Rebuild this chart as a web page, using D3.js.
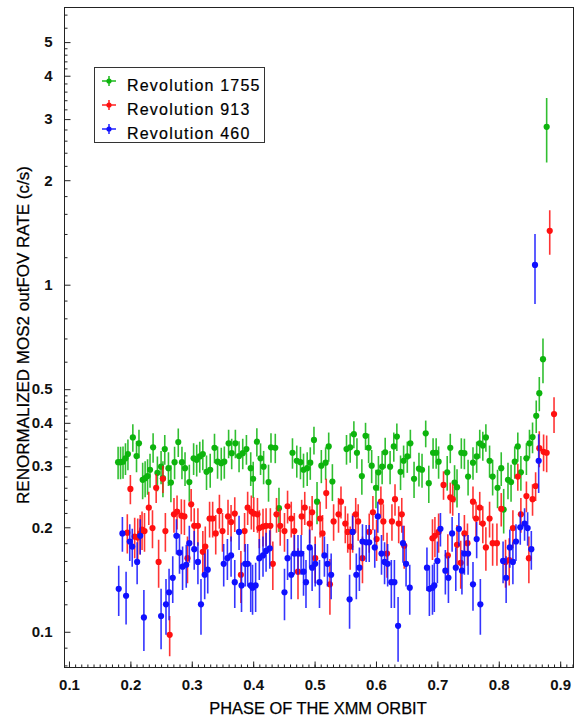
<!DOCTYPE html>
<html>
<head>
<meta charset="utf-8">
<script src="https://cdn.jsdelivr.net/npm/d3@7"></script>
<style>
  html, body { margin: 0; padding: 0; background: #fff; }
  svg { display: block; font-family: "Liberation Sans", Arial, Helvetica, sans-serif; }
</style>
</head>
<body>
<svg id="chart" width="585" height="717"></svg>
<script>
// Orbital phase vs. renormalized MOS2 out-of-FOV count rate (c/s).
// Each point: [phase, rate] or [phase, rate, 1-sigma error] when it differs from the series default.
const rev1755 = [
  [0.180,0.308],[0.184,0.308],[0.188,0.309],[0.192,0.316],[0.196,0.325],[0.204,0.363],[0.210,0.321],
  [0.214,0.349],[0.220,0.274],[0.224,0.277],[0.228,0.281],[0.232,0.293],[0.237,0.340],[0.244,0.287],
  [0.250,0.299],[0.253,0.277],[0.256,0.336],[0.262,0.296],[0.266,0.269],[0.272,0.308],[0.278,0.352],
  [0.284,0.308],[0.289,0.296],[0.296,0.270],[0.303,0.316],[0.308,0.313],[0.313,0.320],[0.318,0.325],
  [0.324,0.289],[0.330,0.293],[0.337,0.339],[0.342,0.309],[0.348,0.306],[0.353,0.309],[0.360,0.349],
  [0.365,0.327],[0.371,0.349],[0.377,0.321],[0.383,0.327],[0.389,0.336],[0.396,0.296],[0.400,0.276],
  [0.406,0.353],[0.412,0.316],[0.417,0.299],[0.425,0.270],[0.429,0.340],[0.436,0.339],[0.442,0.227],
  [0.464,0.328],[0.471,0.311],[0.477,0.308],[0.482,0.293],[0.488,0.296],[0.493,0.307],[0.499,0.357],
  [0.504,0.237],[0.511,0.301],[0.518,0.307],[0.523,0.342],[0.529,0.271],[0.552,0.336],[0.558,0.340],
  [0.564,0.371],[0.569,0.328],[0.577,0.281],[0.583,0.367],[0.588,0.339],[0.593,0.301],[0.600,0.260],
  [0.604,0.288],[0.610,0.299],[0.615,0.329],[0.623,0.299],[0.629,0.342],[0.634,0.365],[0.640,0.289],
  [0.645,0.311],[0.651,0.320],[0.656,0.349],[0.662,0.276],[0.670,0.295],[0.675,0.293],[0.681,0.373],
  [0.686,0.268],[0.693,0.328],[0.698,0.328],[0.702,0.309],[0.716,0.288],[0.721,0.339],[0.728,0.269],
  [0.732,0.261],[0.739,0.328],[0.744,0.327],[0.750,0.280],[0.758,0.307],[0.764,0.320],[0.769,0.349],
  [0.774,0.344],[0.779,0.363],[0.785,0.311],[0.790,0.280],[0.798,0.260],[0.804,0.296],[0.808,0.225],
  [0.815,0.274],[0.820,0.270],[0.826,0.309],[0.831,0.342],[0.836,0.288],[0.845,0.316],[0.850,0.349],
  [0.855,0.364,0.037],[0.861,0.419,0.045],[0.866,0.487,0.055],[0.872,0.610,0.09],[0.878,2.85,0.60]
];
const rev913 = [
  [0.195,0.193],[0.200,0.258],[0.207,0.188],[0.212,0.187],[0.216,0.192],[0.219,0.197],[0.223,0.195],
  [0.230,0.228],[0.236,0.199],[0.242,0.260],[0.246,0.159],[0.253,0.276],[0.257,0.195],[0.264,0.098,0.013],
  [0.271,0.218],[0.276,0.222],[0.283,0.216],[0.288,0.215],[0.293,0.163],[0.299,0.233],[0.304,0.202],
  [0.310,0.202],[0.318,0.170],[0.322,0.176],[0.329,0.212],[0.334,0.212],[0.339,0.192],[0.345,0.223],
  [0.350,0.195],[0.359,0.215],[0.364,0.207],[0.370,0.219],[0.380,0.146],[0.386,0.195],[0.391,0.228],
  [0.397,0.222],[0.401,0.219],[0.407,0.218],[0.410,0.199],[0.416,0.201],[0.421,0.202],[0.428,0.202],
  [0.432,0.157],[0.438,0.218],[0.444,0.202],[0.451,0.195],[0.456,0.230],[0.462,0.212],[0.467,0.195],
  [0.473,0.149],[0.479,0.215],[0.484,0.228],[0.492,0.205],[0.496,0.221],[0.501,0.163],[0.509,0.212],
  [0.513,0.192],[0.519,0.251],[0.525,0.137],[0.531,0.208],[0.539,0.218],[0.543,0.237],[0.550,0.205],
  [0.554,0.194],[0.558,0.176],[0.562,0.194],[0.567,0.218],[0.571,0.208],[0.578,0.163],[0.589,0.194],
  [0.595,0.221],[0.601,0.185],[0.608,0.237],[0.612,0.208],[0.618,0.168],[0.626,0.208],[0.631,0.241],
  [0.637,0.205],[0.642,0.218],[0.646,0.177],[0.692,0.186],[0.696,0.189],[0.702,0.194],[0.710,0.265],
  [0.717,0.166],[0.721,0.244],[0.725,0.241],[0.732,0.178],[0.738,0.158],[0.744,0.192],[0.749,0.180],
  [0.758,0.237],[0.763,0.212],[0.769,0.228],[0.774,0.205],[0.779,0.175],[0.785,0.212],[0.790,0.180],
  [0.797,0.180],[0.804,0.226],[0.811,0.159],[0.817,0.161],[0.823,0.199],[0.831,0.280],[0.836,0.218],
  [0.845,0.246],[0.849,0.163],[0.855,0.241],[0.860,0.263],[0.866,0.338,0.04],[0.873,0.330,0.04],
  [0.878,0.328,0.04],[0.883,1.43,0.21],[0.890,0.424,0.05]
];
const rev460 = [
  [0.181,0.133],[0.187,0.192],[0.193,0.127],[0.199,0.182],[0.203,0.176],[0.211,0.159],[0.216,0.189],
  [0.222,0.110],[0.250,0.111],[0.258,0.120],[0.263,0.130],[0.269,0.143],[0.275,0.189],[0.280,0.169],
  [0.285,0.154],[0.291,0.156],[0.296,0.180],[0.304,0.173],[0.310,0.159],[0.315,0.120],[0.321,0.146],
  [0.326,0.151],[0.352,0.157],[0.358,0.163],[0.364,0.166],[0.370,0.139],[0.377,0.194],[0.381,0.136],
  [0.387,0.157],[0.391,0.157],[0.396,0.136],[0.399,0.134],[0.404,0.136],[0.410,0.163],[0.416,0.166],
  [0.421,0.171],[0.427,0.174],[0.451,0.130],[0.456,0.163],[0.462,0.146],[0.467,0.168],[0.473,0.168],
  [0.478,0.168],[0.482,0.149],[0.486,0.139],[0.492,0.175],[0.496,0.153],[0.501,0.157],[0.508,0.139],
  [0.516,0.166],[0.521,0.157],[0.527,0.146],[0.557,0.124],[0.562,0.194],[0.568,0.146],[0.573,0.153],
  [0.578,0.182],[0.584,0.181],[0.589,0.181],[0.598,0.175],[0.603,0.215],[0.609,0.168],[0.614,0.159],
  [0.619,0.157],[0.625,0.139],[0.630,0.139],[0.636,0.104],[0.644,0.180],[0.649,0.157],[0.655,0.134],
  [0.683,0.153],[0.687,0.133],[0.692,0.134],[0.695,0.136],[0.700,0.160],[0.705,0.198],[0.713,0.150],
  [0.718,0.143],[0.724,0.192],[0.730,0.153],[0.735,0.198],[0.740,0.150],[0.744,0.168],[0.750,0.168],
  [0.758,0.137],[0.764,0.185],[0.770,0.120],[0.807,0.160],[0.812,0.143],[0.818,0.175],[0.823,0.159],
  [0.828,0.182],[0.835,0.200],[0.842,0.205],[0.847,0.199],[0.853,0.173],[0.859,1.14,0.26],[0.865,0.311,0.06]
];

const seriesList = [
  { name: "Revolution 1755", color: "#0db40d", err: 0.033, data: rev1755 },
  { name: "Revolution 913",  color: "#ff1010", err: 0.025, data: rev913 },
  { name: "Revolution 460",  color: "#1010ff", err: 0.022, data: rev460 }
];

const phaseTicks = [0.1, 0.2, 0.3, 0.4, 0.5, 0.6, 0.7, 0.8, 0.9];
const phaseMinor = d3.range(10, 93).map(k => k / 100);
const rateTicks = [0.1, 0.2, 0.3, 0.4, 0.5, 1, 2, 3, 4, 5];
const rateMinor = [0.08, 0.09, 0.12, 0.14, 0.16, 0.18, 0.22, 0.24, 0.26, 0.28,
                   0.32, 0.34, 0.36, 0.38, 0.42, 0.44, 0.46, 0.48, 0.6, 0.7, 0.8, 0.9,
                   1.2, 1.4, 1.6, 1.8, 2.2, 2.4, 2.6, 2.8, 3.2, 3.4, 3.6, 3.8,
                   4.2, 4.4, 4.6, 4.8, 5.5, 6];

const phaseDomain = [0.0927, 0.9217];
const rateDomain = [0.0789, 6.29];

const frame = { left: 64.5, right: 573.5, top: 7.5, bottom: 667.5 };
const svg = d3.select("#chart");

const x = d3.scaleLinear().domain(phaseDomain).range([frame.left, frame.right]);
const y = d3.scaleLog().domain(rateDomain).range([frame.bottom, frame.top]);

svg.append("defs").append("clipPath").attr("id", "plotClip")
  .append("rect")
  .attr("x", frame.left).attr("y", frame.top)
  .attr("width", frame.right - frame.left).attr("height", frame.bottom - frame.top);

// frame
svg.append("rect")
  .attr("x", frame.left).attr("y", frame.top)
  .attr("width", frame.right - frame.left).attr("height", frame.bottom - frame.top)
  .attr("fill", "none").attr("stroke", "#222").attr("stroke-width", 1);

// bottom axis: ticks point into the plot
const xAxis = d3.axisBottom(x).tickValues(phaseTicks).tickSize(-6).tickPadding(12)
  .tickFormat(d3.format(".1f"));
const gx = svg.append("g").attr("transform", `translate(0,${frame.bottom})`).call(xAxis);
gx.select(".domain").remove();
gx.selectAll(".tick line").attr("stroke", "#222");
gx.selectAll(".tick text").attr("font-size", 15).attr("font-weight", "bold").attr("fill", "#111")
  .attr("dy", "0.71em");
const gxm = svg.append("g").attr("transform", `translate(0,${frame.bottom})`)
  .call(d3.axisBottom(x).tickValues(phaseMinor).tickSize(-3).tickFormat(""));
gxm.select(".domain").remove();
gxm.selectAll(".tick line").attr("stroke", "#222");

// left axis
const yAxis = d3.axisLeft(y).tickValues(rateTicks).tickSize(-6).tickPadding(12)
  .tickFormat(d => d < 1 ? d3.format(".1f")(d) : d3.format("d")(d));
const gy = svg.append("g").attr("transform", `translate(${frame.left},0)`).call(yAxis);
gy.select(".domain").remove();
gy.selectAll(".tick line").attr("stroke", "#222");
gy.selectAll(".tick text").attr("font-size", 15).attr("font-weight", "bold").attr("fill", "#111");
const gym = svg.append("g").attr("transform", `translate(${frame.left},0)`)
  .call(d3.axisLeft(y).tickValues(rateMinor).tickSize(-3).tickFormat(""));
gym.select(".domain").remove();
gym.selectAll(".tick line").attr("stroke", "#222");

// axis titles
svg.append("text")
  .attr("x", 318).attr("y", 714)
  .attr("text-anchor", "middle").attr("font-size", 16.4).attr("fill", "#000")
  .attr("stroke", "#000").attr("stroke-width", 0.25)
  .text("PHASE OF THE XMM ORBIT");
svg.append("text")
  .attr("transform", "translate(29,335) rotate(-90)")
  .attr("text-anchor", "middle").attr("font-size", 17).attr("fill", "#000")
  .attr("stroke", "#000").attr("stroke-width", 0.25)
  .text("RENORMALIZED MOS2 outFOV RATE (c/s)");

// data: error bars then markers
const plot = svg.append("g").attr("clip-path", "url(#plotClip)");
seriesList.forEach(s => {
  const g = plot.append("g");
  g.selectAll("line").data(s.data).join("line")
    .attr("x1", d => x(d[0])).attr("x2", d => x(d[0]))
    .attr("y1", d => y(d[1] + (d[2] ?? s.err)))
    .attr("y2", d => y(Math.max(d[1] - (d[2] ?? s.err), 1e-3)))
    .attr("stroke", s.color).attr("stroke-width", 1.6).attr("stroke-opacity", 0.85);
  g.selectAll("circle").data(s.data).join("circle")
    .attr("cx", d => x(d[0])).attr("cy", d => y(d[1])).attr("r", 3.1)
    .attr("fill", s.color);
});

// legend
const legend = svg.append("g");
legend.append("rect").attr("x", 94.5).attr("y", 67.5).attr("width", 170).attr("height", 75)
  .attr("fill", "#fff").attr("stroke", "#333").attr("stroke-width", 1);
seriesList.forEach((s, i) => {
  const cy = 81 + i * 24;
  const row = legend.append("g");
  row.append("line").attr("x1", 102).attr("x2", 116).attr("y1", cy).attr("y2", cy)
    .attr("stroke", s.color).attr("stroke-width", 1.4);
  row.append("line").attr("x1", 109).attr("x2", 109).attr("y1", cy - 5).attr("y2", cy + 5)
    .attr("stroke", s.color).attr("stroke-width", 1.4);
  row.append("circle").attr("cx", 109).attr("cy", cy).attr("r", 2.6).attr("fill", s.color);
  row.append("text").attr("x", 127).attr("y", cy + 10)
    .attr("font-size", 16).attr("letter-spacing", 1.2).attr("fill", "#000")
    .attr("stroke", "#000").attr("stroke-width", 0.2)
    .text(s.name);
});
</script>
</body>
</html>
